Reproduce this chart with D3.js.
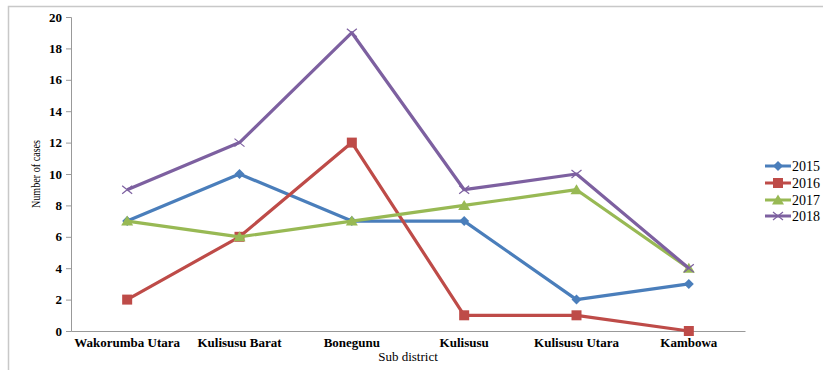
<!DOCTYPE html>
<html><head><meta charset="utf-8">
<script src="https://cdn.jsdelivr.net/npm/d3@7"></script>
<style>body{margin:0;background:#fff}svg{display:block}svg text{font-family:"Liberation Serif","Times New Roman",serif !important;fill:#000}</style>
</head><body><svg id="c" width="823" height="370"></svg>
<script>
const categories = ["Wakorumba Utara","Kulisusu Barat","Bonegunu","Kulisusu","Kulisusu Utara","Kambowa"];
const seriesNames = ["2015","2016","2017","2018"];
const v2015 = [7,10,7,7,2,3];
const v2016 = [2,6,12,1,1,0];
const v2017 = [7,6,7,8,9,4];
const v2018 = [9,12,19,9,10,4];
const yTicks = [0,2,4,6,8,10,12,14,16,18,20];
const colors = ["#4a7ebb","#be4b48","#98b954","#7d60a0"];
const markers = ["diamond","square","triangle","x"];
const series = [v2015,v2016,v2017,v2018];

const svg = d3.select("#c");
svg.append("rect").attr("x",8.5).attr("y",6.5).attr("width",830).attr("height",380)
  .attr("fill","none").attr("stroke","#c8c8c8").attr("stroke-width",1.5);

const pL=71, pR=745, pT=17, pB=331;
const x = d3.scaleBand().domain(categories).range([pL,pR]);
const y = d3.scaleLinear().domain([0,20]).range([pB,pT]);

const yAxis = svg.append("g").attr("transform",`translate(${pL},0)`)
  .call(d3.axisLeft(y).tickValues(yTicks).tickSize(5).tickPadding(4));
yAxis.attr("font-family",null);
yAxis.select(".domain").attr("stroke","#999");
yAxis.selectAll(".tick line").attr("stroke","#999");
yAxis.selectAll("text").style("font-size","13px").style("font-weight","bold");

const xAxis = svg.append("g").attr("transform",`translate(0,${pB})`)
  .call(d3.axisBottom(x).tickSize(0).tickPadding(7).tickSizeOuter(0));
xAxis.attr("font-family",null);
xAxis.select(".domain").attr("stroke","#999");
xAxis.selectAll("text").style("font-size","13px").style("font-weight","bold");

svg.append("text").attr("transform",`translate(40,174) rotate(-90)`)
  .attr("text-anchor","middle").style("font-size","13px")
  .attr("textLength",68).attr("lengthAdjust","spacingAndGlyphs")
  .text("Number of cases");
svg.append("text").attr("x",(pL+pR)/2).attr("y",360.5).attr("text-anchor","middle")
  .style("font-size","13px").text("Sub district");

function drawMarker(g, type, cx, cy, color){
  if(type==="diamond"){
    g.append("path").attr("d",`M${cx},${cy-5}L${cx+5},${cy}L${cx},${cy+5}L${cx-5},${cy}Z`).attr("fill",color);
  } else if(type==="square"){
    g.append("rect").attr("x",cx-5).attr("y",cy-5).attr("width",10).attr("height",10).attr("fill",color);
  } else if(type==="triangle"){
    g.append("path").attr("d",`M${cx},${cy-5.5}L${cx+6},${cy+4.5}L${cx-6},${cy+4.5}Z`).attr("fill",color);
  } else {
    g.append("path").attr("d",`M${cx-5},${cy-4}L${cx+5},${cy+4}M${cx-5},${cy+4}L${cx+5},${cy-4}`)
      .attr("stroke",color).attr("stroke-width",1.2).attr("fill","none");
  }
}

const line = d3.line().x((d,i)=>x(categories[i])+x.bandwidth()/2).y(d=>y(d));
series.forEach((vals,si)=>{
  const g = svg.append("g");
  g.append("path").attr("d",line(vals)).attr("fill","none").attr("stroke",colors[si])
    .attr("stroke-width",3.2).attr("stroke-linejoin","round");
  vals.forEach((v,i)=>drawMarker(g, markers[si], x(categories[i])+x.bandwidth()/2, y(v), colors[si]));
});

const legY = [166,183,200,216];
seriesNames.forEach((n,i)=>{
  const g = svg.append("g");
  g.append("line").attr("x1",765).attr("x2",791).attr("y1",legY[i]).attr("y2",legY[i])
    .attr("stroke",colors[i]).attr("stroke-width",3);
  drawMarker(g, markers[i], 778, legY[i], colors[i]);
  g.append("text").attr("x",792).attr("y",legY[i]+4.8).style("font-size","14px").text(n);
});
</script></body></html>
